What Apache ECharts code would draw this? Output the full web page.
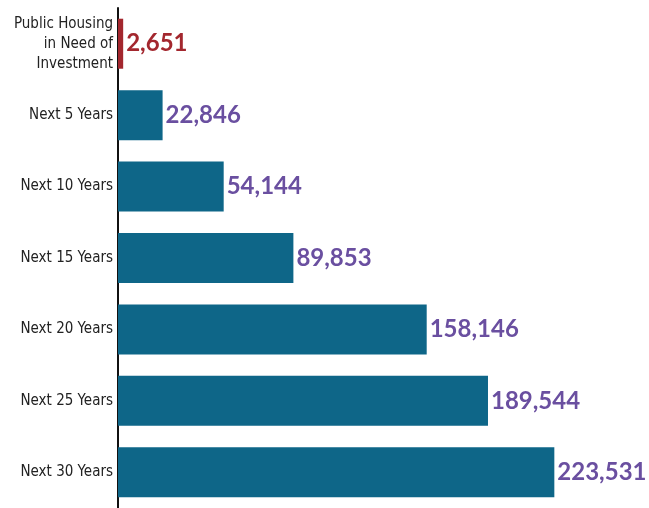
<!DOCTYPE html>
<html>
<head>
<meta charset="utf-8">
<script src="https://cdn.jsdelivr.net/npm/echarts@6/dist/echarts.min.js"></script>
<style>
  html, body { margin: 0; padding: 0; background: #fff; }
  #chart { width: 649px; height: 508px; }
</style>
</head>
<body>
<div id="chart"></div>
<script>
// Data
const categories = ['Public Housing\nin Need of\nInvestment', 'Next 5 Years', 'Next 10 Years', 'Next 15 Years', 'Next 20 Years', 'Next 25 Years', 'Next 30 Years'];
const values = [2651, 22846, 54144, 89853, 158146, 189544, 223531];
const barColors = ['#a3272e', '#0e6688', '#0e6688', '#0e6688', '#0e6688', '#0e6688', '#0e6688'];
const labelColors = ['#a3272e', '#6a4fa0', '#6a4fa0', '#6a4fa0', '#6a4fa0', '#6a4fa0', '#6a4fa0'];

const chart = echarts.init(document.getElementById('chart'));

const option = {
    animation: false,
    grid: {
        left: 118,
        right: 43,
        top: 8,
        bottom: 0
    },
    xAxis: {
        type: 'value',
        min: 0,
        max: 250000,
        show: false
    },
    yAxis: {
        type: 'category',
        inverse: true,
        data: categories,
        axisLine: {
            show: true,
            lineStyle: { color: '#111', width: 2 }
        },
        axisTick: { show: false },
        axisLabel: {
            margin: 5,
            color: '#222',
            fontFamily: '"Liberation Sans Narrow", "DejaVu Sans Condensed", sans-serif',
            fontSize: 15,
            lineHeight: 20
        }
    },
    series: [
        {
            type: 'bar',
            barCategoryGap: '30%',
            data: values.map((v, i) => ({
                value: v,
                itemStyle: { color: barColors[i] },
                label: { color: labelColors[i] }
            })),
            label: {
                show: true,
                position: 'right',
                distance: 3,
                fontFamily: 'Lato, sans-serif',
                fontWeight: 'bold',
                fontSize: 24,
                formatter: p => p.value.toLocaleString('en-US')
            }
        }
    ]
};

chart.setOption(option);
</script>
</body>
</html>
